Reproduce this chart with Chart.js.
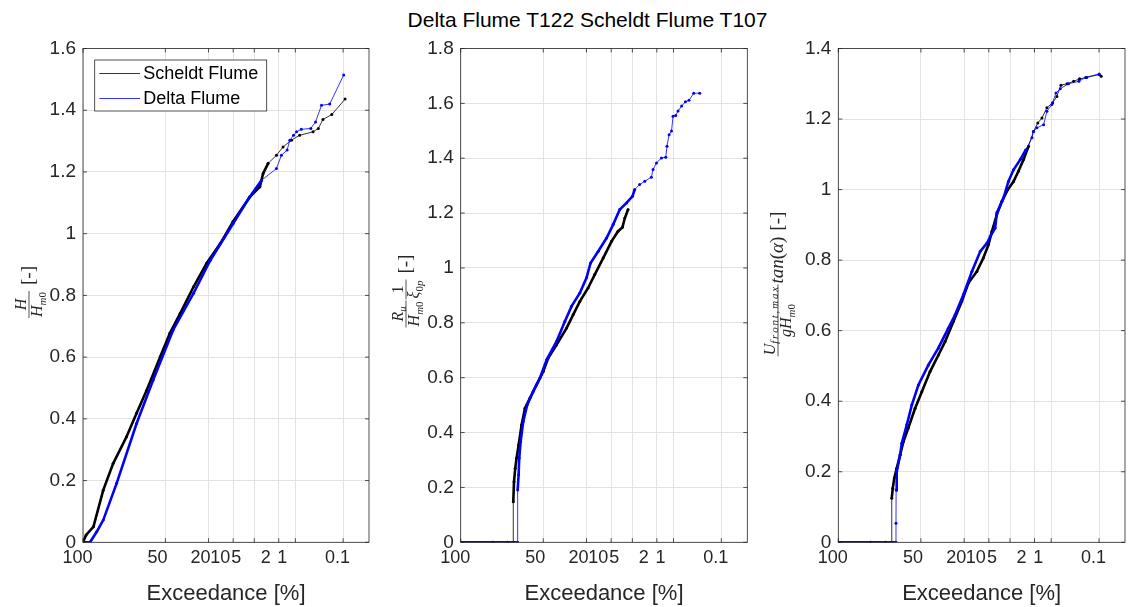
<!DOCTYPE html>
<html>
<head>
<meta charset="utf-8">
<script src="https://cdn.jsdelivr.net/npm/chart.js@4/dist/chart.umd.min.js"></script>
<style>
  body { margin: 0; background: #fff; width: 1134px; height: 607px; position: relative; overflow: hidden; font-family: "Liberation Sans", Arial, sans-serif; }
  canvas { position: absolute; top: 0; }
  #title { position: absolute; left: 0; width: 1175px; top: 8px; text-align: center; font-size: 21px; line-height: 24px; color: #000; }
</style>
</head>
<body>
<div id="title">Delta Flume T122 Scheldt Flume T107</div>
<canvas id="c1" width="380" height="607" style="left:0px"></canvas>
<canvas id="c2" width="378" height="607" style="left:380px"></canvas>
<canvas id="c3" width="376" height="607" style="left:758px"></canvas>
<script>
// x axis: exceedance probability [%] on a Rayleigh scale
var tickPct = [100, 50, 20, 10, 5, 2, 1, 0.1];
var tickLabels = ['100', '50', '20', '10', '5', '2', '1', '0.1'];
var seriesNames = ['Scheldt Flume', 'Delta Flume'];

// panel 1: H / Hm0
var hScheldtExc = [100, 99.9, 98.9, 95.9, 91.1, 82.4, 74.6, 66.1, 54.4, 46.3, 38.1, 28.7, 20.9, 14.6, 10.0, 5.83, 4.10, 3.64, 3.02, 2.19, 1.68, 1.18, 0.83, 0.45, 0.35, 0.28, 0.18, 0.09];
var hScheldtVal = [0, 0.024, 0.05, 0.169, 0.256, 0.342, 0.418, 0.493, 0.601, 0.677, 0.742, 0.828, 0.905, 0.968, 1.04, 1.119, 1.152, 1.195, 1.228, 1.254, 1.281, 1.303, 1.319, 1.330, 1.341, 1.370, 1.386, 1.436];
var hDeltaExc = [100, 99.5, 98.1, 95.9, 89.1, 74.6, 60.5, 43.6, 28.7, 19.1, 10.0, 5.83, 3.86, 2.19, 1.80, 1.42, 1.27, 1.08, 0.95, 0.77, 0.50, 0.40, 0.30, 0.20, 0.097];
var hDeltaVal = [0, 0, 0.034, 0.072, 0.191, 0.385, 0.526, 0.688, 0.807, 0.914, 1.033, 1.12, 1.173, 1.211, 1.254, 1.271, 1.303, 1.319, 1.330, 1.338, 1.341, 1.362, 1.416, 1.420, 1.514];

// panel 2: Ru / Hm0 / xi0p
var ruScheldtExc = [100, 90, 80, 75.5, 75.5, 74.9, 73.9, 72.8, 71.1, 68.6, 65.7, 61.4, 55.7, 50.0, 45.9, 39.3, 32.0, 27.6, 23.6, 19.2, 16.1, 12.7, 9.89, 8.06, 6.99, 6.46, 5.79];
var ruScheldtVal = [0, 0, 0, 0, 0.148, 0.221, 0.27, 0.307, 0.355, 0.428, 0.489, 0.526, 0.574, 0.623, 0.672, 0.72, 0.781, 0.83, 0.878, 0.927, 0.976, 1.036, 1.097, 1.134, 1.148, 1.182, 1.213];
var ruDeltaExc = [100, 90, 80, 71.9, 71.9, 71.1, 70.6, 69.4, 67.2, 63.8, 58.6, 52.8, 47.2, 39.3, 33.2, 28.7, 23.6, 20.0, 18.0, 14.6, 11.5, 9.42, 7.63, 6.11, 4.98, 4.60, 3.86, 3.19, 2.48, 2.32, 2.03, 1.66, 1.39, 1.32, 1.21, 1.09, 1.02, 0.91, 0.82, 0.70, 0.59, 0.50, 0.40, 0.30];
var ruDeltaVal = [0, 0, 0, 0, 0.191, 0.246, 0.307, 0.367, 0.44, 0.501, 0.55, 0.599, 0.665, 0.732, 0.805, 0.86, 0.909, 0.964, 1.018, 1.061, 1.109, 1.158, 1.213, 1.237, 1.261, 1.286, 1.304, 1.316, 1.331, 1.359, 1.383, 1.401, 1.404, 1.444, 1.486, 1.499, 1.553, 1.556, 1.572, 1.59, 1.606, 1.611, 1.637, 1.637];

// panel 3: U front max / g Hm0 * tan(alpha)
var uScheldtExc = [100, 90, 80, 74.8, 74.8, 74.0, 72.7, 70.7, 67.8, 65.0, 60.8, 54.9, 49.2, 42.5, 36.1, 31.4, 26.0, 21.2, 17.9, 14.2, 11.8, 10.1, 9.11, 7.78, 6.59, 5.39, 4.42, 3.70, 3.06, 2.53, 2.08, 1.75, 1.48, 1.20, 0.94, 0.78, 0.65, 0.49, 0.36, 0.27, 0.19, 0.10, 0.089];
var uScheldtVal = [0, 0, 0, 0, 0.125, 0.153, 0.182, 0.21, 0.248, 0.285, 0.324, 0.38, 0.427, 0.484, 0.531, 0.569, 0.626, 0.683, 0.735, 0.768, 0.806, 0.844, 0.881, 0.929, 0.967, 1.0, 1.023, 1.052, 1.085, 1.123, 1.165, 1.189, 1.203, 1.232, 1.246, 1.264, 1.296, 1.3, 1.307, 1.314, 1.318, 1.326, 1.321];
var uDeltaExc = [100, 90, 80, 71.3, 71.3, 71.2, 70.7, 67.8, 66.4, 62.1, 57.7, 52.1, 43.8, 36.1, 29.2, 25.0, 20.4, 16.3, 12.9, 10.6, 9.59, 8.21, 7.78, 6.25, 5.28, 4.42, 3.46, 2.80, 2.21, 2.08, 1.82, 1.38, 1.20, 0.97, 0.81, 0.67, 0.46, 0.28, 0.20, 0.099];
var uDeltaVal = [0, 0, 0, 0, 0.054, 0.148, 0.2, 0.248, 0.281, 0.333, 0.39, 0.446, 0.503, 0.551, 0.607, 0.645, 0.702, 0.768, 0.825, 0.848, 0.867, 0.891, 0.934, 0.976, 1.023, 1.056, 1.085, 1.113, 1.147, 1.165, 1.175, 1.184, 1.222, 1.241, 1.274, 1.286, 1.3, 1.307, 1.318, 1.328];

var axisColor = '#262626';
var sansFont = '"Liberation Sans", Arial, sans-serif';
// the original figure draws some tick labels a little off their grid line
var labelNudge = [1, 0, 0, -2, -4, -2, -2, 1];

function toU(p) {
  return Math.sqrt(-Math.log(p / 100));
}

function points(exc, val) {
  return exc.map(function (p, i) {
    return { x: toU(p), y: val[i], pct: p };
  });
}

function nudged(text, n) {
  var pad = new Array(Math.abs(n) + 1).join(' ');
  return n > 0 ? pad + text : text + pad;
}

// many samples in the lower part make the line look heavy there
function segWidth(dense) {
  return function (c) {
    var d = c.chart.data.datasets[c.datasetIndex].data;
    var a = d[c.p0DataIndex], b = d[c.p1DataIndex];
    if (a.pct >= dense && b.pct >= dense && Math.abs(a.x - b.x) > 0.005) return 2.6;
    return 0.8;
  };
}

function series(label, exc, val, color, dense, order) {
  return {
    label: label,
    data: points(exc, val),
    borderColor: color,
    backgroundColor: color,
    borderWidth: 0.8,
    pointRadius: 1.5,
    pointBorderWidth: 0,
    pointBackgroundColor: color,
    tension: 0,
    order: order,
    segment: { borderWidth: segWidth(dense) }
  };
}

function mathFont(size, italic) {
  return (italic ? 'italic ' : '') + size + 'px "Liberation Serif", "DejaVu Serif", serif';
}

// a run piece is [text, size, italic, dy, letterSpacing]
function pieceWidth(ctx, r) {
  ctx.font = mathFont(r[1], r[2]);
  var ls = r[4] || 0;
  return ctx.measureText(r[0]).width + ls * r[0].length;
}

function runWidth(ctx, run) {
  var w = 0;
  run.forEach(function (r) { w += pieceWidth(ctx, r); });
  return w;
}

function drawRun(ctx, run, x, y) {
  run.forEach(function (r) {
    ctx.font = mathFont(r[1], r[2]);
    var ls = r[4] || 0;
    if (!ls) {
      ctx.fillText(r[0], x, y + (r[3] || 0));
      x += ctx.measureText(r[0]).width;
      return;
    }
    r[0].split('').forEach(function (ch) {
      ctx.fillText(ch, x, y + (r[3] || 0));
      x += ctx.measureText(ch).width + ls;
    });
  });
}

// rotated y label built from runs and fractions
var mathLabel = {
  id: 'mathLabel',
  afterDraw: function (chart, args, opts) {
    if (!opts.items) return;
    var ctx = chart.ctx;
    var axis = 5;
    ctx.save();
    ctx.fillStyle = axisColor;
    ctx.strokeStyle = axisColor;
    ctx.textBaseline = 'alphabetic';
    ctx.textAlign = 'left';
    var widths = [], total = 0;
    opts.items.forEach(function (it) {
      var w;
      if (it.num) w = Math.max(runWidth(ctx, it.num), runWidth(ctx, it.den)) + 2;
      else w = runWidth(ctx, it.run);
      w += it.pad || 0;
      widths.push(w);
      total += w;
    });
    ctx.translate(opts.x, opts.y);
    ctx.rotate(-Math.PI / 2);
    var x = -total / 2;
    opts.items.forEach(function (it, k) {
      if (it.num) {
        var w0 = widths[k] - (it.pad || 0);
        var nw = runWidth(ctx, it.num), dw = runWidth(ctx, it.den);
        drawRun(ctx, it.num, x + (w0 - nw) / 2, -axis - 3.5);
        drawRun(ctx, it.den, x + (w0 - dw) / 2, -axis + 2.5 + 0.66 * it.den[0][1]);
        ctx.lineWidth = 0.8;
        ctx.beginPath();
        ctx.moveTo(x, -axis);
        ctx.lineTo(x + w0, -axis);
        ctx.stroke();
      } else {
        drawRun(ctx, it.run, x, 0);
      }
      x += widths[k];
    });
    ctx.restore();
  }
};

// box round the axes with inward ticks on all four sides
var frame = {
  id: 'frame',
  afterDatasetsDraw: function (chart) {
    var a = chart.chartArea, ctx = chart.ctx;
    var xs = chart.scales.x, ys = chart.scales.y;
    ctx.save();
    ctx.strokeStyle = axisColor;
    ctx.lineWidth = 0.8;
    ctx.beginPath();
    xs.ticks.forEach(function (t) {
      var px = xs.getPixelForValue(t.value);
      ctx.moveTo(px, a.bottom); ctx.lineTo(px, a.bottom - 4);
      ctx.moveTo(px, a.top); ctx.lineTo(px, a.top + 4);
    });
    ys.ticks.forEach(function (t) {
      var py = ys.getPixelForValue(t.value);
      ctx.moveTo(a.left, py); ctx.lineTo(a.left + 4, py);
      ctx.moveTo(a.right, py); ctx.lineTo(a.right - 4, py);
    });
    ctx.stroke();
    ctx.strokeRect(a.left, a.top, a.right - a.left, a.bottom - a.top);
    ctx.restore();
  }
};

var boxLegend = {
  id: 'boxLegend',
  afterDraw: function (chart, args, opts) {
    if (!opts.show) return;
    var a = chart.chartArea, ctx = chart.ctx;
    var x = a.left + 11.7, y = a.top + 11.5;
    ctx.save();
    ctx.fillStyle = '#fff';
    ctx.fillRect(x, y, 172, 51);
    ctx.strokeStyle = axisColor;
    ctx.lineWidth = 0.8;
    ctx.strokeRect(x, y, 172, 51);
    ctx.font = '18px ' + sansFont;
    ctx.textBaseline = 'middle';
    var colors = ['#000000', '#0000ff'];
    seriesNames.forEach(function (name, i) {
      var ly = y + 13.5 + i * 25;
      ctx.strokeStyle = colors[i];
      ctx.lineWidth = 0.8;
      ctx.beginPath();
      ctx.moveTo(x + 4.6, ly);
      ctx.lineTo(x + 45.3, ly);
      ctx.stroke();
      ctx.fillStyle = '#000';
      ctx.fillText(name, x + 48.6, ly + 1);
    });
    ctx.restore();
  }
};

function makePanel(id, axisWidth, rightPad, yMax, scheldt, delta, dense, label, legend) {
  new Chart(document.getElementById(id), {
    type: 'line',
    data: {
      datasets: [
        series(seriesNames[0], scheldt[0], scheldt[1], '#000000', dense[0], 1),
        series(seriesNames[1], delta[0], delta[1], '#0000ff', dense[1], 0)
      ]
    },
    options: {
      responsive: false,
      animation: false,
      devicePixelRatio: 1,
      layout: { padding: { top: 48.5, right: rightPad, left: 0, bottom: 0 } },
      plugins: {
        legend: { display: false },
        tooltip: { enabled: false },
        mathLabel: label,
        boxLegend: { show: legend }
      },
      scales: {
        x: {
          type: 'linear',
          min: 0,
          max: 2.89,
          afterBuildTicks: function (s) {
            s.ticks = tickPct.map(function (p) { return { value: toU(p) }; });
          },
          afterFit: function (s) { s.height = 64.7; },
          grid: { color: '#e3e3e3', lineWidth: 1, drawTicks: false },
          border: { display: false },
          ticks: {
            autoSkip: false,
            maxRotation: 0,
            padding: 5,
            labelOffset: -8,
            color: axisColor,
            font: { family: sansFont, size: 18 },
            callback: function (v, i) { return nudged(tickLabels[i], labelNudge[i]); }
          },
          title: {
            display: true,
            text: 'Exceedance [%]',
            color: axisColor,
            padding: { top: 0, bottom: 0 },
            font: { family: sansFont, size: 22 }
          }
        },
        y: {
          min: 0,
          max: yMax,
          afterFit: function (s) { s.width = axisWidth; },
          grid: { color: '#e3e3e3', lineWidth: 1, drawTicks: false },
          border: { display: false },
          ticks: {
            stepSize: 0.2,
            padding: 7,
            color: axisColor,
            font: { family: sansFont, size: 19 },
            callback: function (v) { return String(+v.toFixed(1)); }
          }
        }
      }
    },
    plugins: [frame, mathLabel, boxLegend]
  });
}

makePanel('c1', 83, 11, 1.6, [hScheldtExc, hScheldtVal], [hDeltaExc, hDeltaVal], [2.5, 2.5], {
  x: 34, y: 292,
  items: [
    { num: [['H', 16, 1]], den: [['H', 16, 1], ['m', 11, 1, 3.5], ['0', 11, 0, 3.5]], pad: 6 },
    { run: [['[-]', 19, 0]] }
  ]
}, true);

makePanel('c2', 80.7, 10.7, 1.8, [ruScheldtExc, ruScheldtVal], [ruDeltaExc, ruDeltaVal], [0, 4.5], {
  x: 31, y: 291,
  items: [
    { num: [['R', 16, 1], ['u', 11, 1, 3.5]], den: [['H', 16, 1], ['m', 11, 1, 3.5], ['0', 11, 0, 3.5]], pad: 1 },
    { num: [['1', 16, 0]], den: [['\u03BE', 16, 1], ['0', 11, 0, 3.5], ['p', 11, 1, 3.5]], pad: 6 },
    { run: [['[-]', 19, 0]] }
  ]
}, false);

makePanel('c3', 80.3, 9, 1.4, [uScheldtExc, uScheldtVal], [uDeltaExc, uDeltaVal], [2.5, 2.5], {
  x: 25, y: 284,
  items: [
    { num: [['U', 16, 1], ['front,max', 11, 1, 3.5, 1.8]], den: [['gH', 16, 1], ['m', 11, 1, 3.5], ['0', 11, 0, 3.5]], pad: 1 },
    { run: [['tan', 19, 1], ['(', 19, 0], ['\u03B1', 19, 1], [')', 19, 0]], pad: 6 },
    { run: [['[-]', 19, 0]] }
  ]
}, false);
</script>
</body>
</html>
